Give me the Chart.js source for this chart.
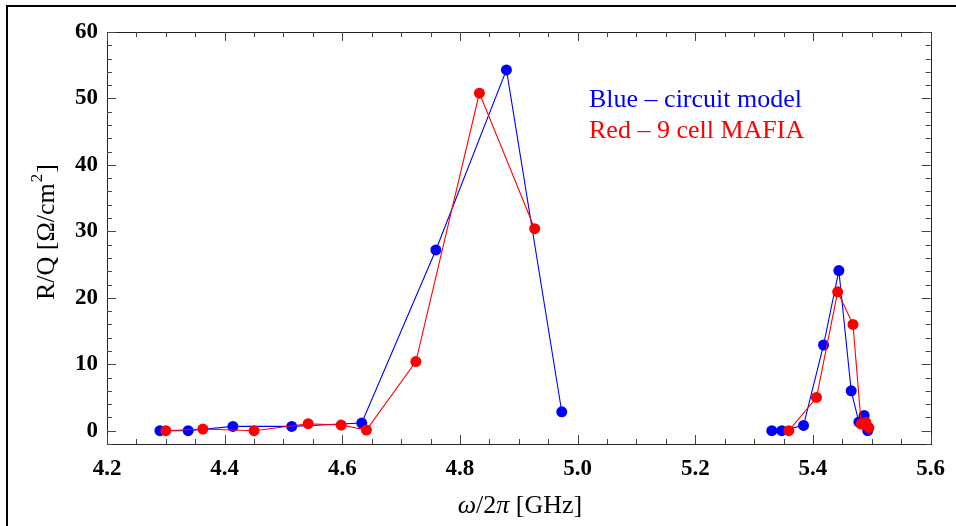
<!DOCTYPE html>
<html>
<head>
<meta charset="utf-8">
<script src="https://cdn.jsdelivr.net/npm/chart.js@4.4.0/dist/chart.umd.min.js"></script>
<style>
  html, body { margin: 0; padding: 0; background: #fff; }
  #wrap { width: 956px; height: 526px; position: relative; }
</style>
</head>
<body>
<div id="wrap"><canvas id="chartRQ"></canvas></div>
<script>
// circuit model (blue)
const blueX = [4.290, 4.338, 4.414, 4.514, 4.633, 4.759, 4.879, 4.973,
               5.330, 5.347, 5.384, 5.418, 5.444, 5.465, 5.478, 5.487, 5.493];
const blueY = [0.0, 0.0, 0.65, 0.65, 1.15, 27.2, 54.3, 2.85,
               0.0, 0.0, 0.8, 12.9, 24.1, 6.0, 1.3, 2.3, 0.0];

// 9 cell MAFIA (red)
const redX = [4.300, 4.363, 4.450, 4.542, 4.598, 4.641, 4.725, 4.833, 4.927,
              5.359, 5.406, 5.442, 5.468, 5.482, 5.490, 5.495];
const redY = [0.0, 0.25, 0.0, 1.05, 0.85, 0.1, 10.4, 50.8, 30.4,
              0.0, 5.0, 20.9, 16.0, 1.0, 1.25, 0.45];

// the two passbands are drawn as separate lines
const bandSplit = 5.1;

const xTicks = [4.2, 4.4, 4.6, 4.8, 5.0, 5.2, 5.4, 5.6];
const yTicks = [0, 10, 20, 30, 40, 50, 60];

const legendLines = [
    { text: "Blue \u2013 circuit model", color: "#0000ff" },
    { text: "Red \u2013 9 cell MAFIA", color: "#ff0000" }
];

const serif = "'Liberation Serif', 'Times New Roman', serif";

function band(xs, ys, upper) {
    return xs.map((x, i) => ({ x: x, y: ys[i] }))
             .filter(p => upper ? p.x > bandSplit : p.x < bandSplit);
}

function series(label, points, color) {
    return {
        label: label,
        data: points,
        showLine: true,
        borderColor: color,
        backgroundColor: color,
        borderWidth: 1.1,
        pointRadius: 5.5,
        pointBorderWidth: 0,
        pointHoverRadius: 5.5
    };
}

// frame, inward ticks, titles and the text legend
const framePlugin = {
    id: "framePlugin",
    afterDraw(chart) {
        const ctx = chart.ctx;
        const a = chart.chartArea;
        const xs = chart.scales.x, ys = chart.scales.y;
        ctx.save();

        // outer picture frame (only top and left visible)
        ctx.strokeStyle = "#000";
        ctx.lineWidth = 2;
        ctx.beginPath();
        ctx.moveTo(7, 526);
        ctx.lineTo(7, 6);
        ctx.lineTo(956, 6);
        ctx.stroke();

        // plot frame
        ctx.lineWidth = 1;
        ctx.strokeStyle = "#222";
        ctx.strokeRect(Math.round(a.left) + 0.5, Math.round(a.top) + 0.5,
                       Math.round(a.right - a.left), Math.round(a.bottom - a.top));

        // x ticks (minor every 0.05)
        ctx.strokeStyle = "#444";
        for (let i = 0; i <= 28; i++) {
            const v = 4.2 + i * 0.05;
            const px = Math.round(xs.getPixelForValue(v)) + 0.5;
            const len = (i % 4 === 0) ? 9 : 5;
            ctx.beginPath();
            ctx.moveTo(px, a.bottom); ctx.lineTo(px, a.bottom - len);
            ctx.moveTo(px, a.top); ctx.lineTo(px, a.top + len);
            ctx.stroke();
        }
        // y ticks (minor every 2)
        for (let v = -2; v <= 60; v += 2) {
            const py = Math.round(ys.getPixelForValue(v)) + 0.5;
            const len = (v % 10 === 0) ? 9 : 5;
            ctx.beginPath();
            ctx.moveTo(a.left, py); ctx.lineTo(a.left + len, py);
            ctx.moveTo(a.right, py); ctx.lineTo(a.right - len, py);
            ctx.stroke();
        }

        // y axis title with a real superscript
        ctx.fillStyle = "#000";
        ctx.save();
        ctx.translate(47, 0);
        ctx.rotate(-Math.PI / 2);
        ctx.textBaseline = "middle";
        ctx.textAlign = "left";
        const yMain = "R/Q [\u03A9/cm", ySup = "2", yEnd = "]";
        ctx.font = "26px " + serif;
        const w1 = ctx.measureText(yMain).width;
        const w3 = ctx.measureText(yEnd).width;
        ctx.font = "17px " + serif;
        const w2 = ctx.measureText(ySup).width;
        let ty = -233 - (w1 + w2 + w3) / 2;
        ctx.font = "26px " + serif;
        ctx.fillText(yMain, ty, 0);
        ctx.font = "17px " + serif;
        ctx.fillText(ySup, ty + w1 + 1, -9);
        ctx.font = "26px " + serif;
        ctx.fillText(yEnd, ty + w1 + w2 + 2, 0);
        ctx.restore();

        // x axis title with italic omega and pi
        const parts = [
            { t: "\u03C9", it: true }, { t: "/2", it: false },
            { t: "\u03C0", it: true }, { t: " [GHz]", it: false }
        ];
        let total = 0;
        parts.forEach(p => {
            ctx.font = (p.it ? "italic " : "") + "26px " + serif;
            p.w = ctx.measureText(p.t).width;
            total += p.w;
        });
        let cx = 520 - total / 2;
        ctx.textBaseline = "middle";
        ctx.textAlign = "left";
        parts.forEach(p => {
            ctx.font = (p.it ? "italic " : "") + "26px " + serif;
            ctx.fillText(p.t, cx, 506);
            cx += p.w;
        });

        // text legend
        ctx.font = "26px " + serif;
        legendLines.forEach((l, i) => {
            ctx.fillStyle = l.color;
            ctx.fillText(l.text, 589, 100 + i * 31);
        });

        ctx.restore();
    }
};

new Chart(document.getElementById("chartRQ"), {
    type: "scatter",
    data: {
        datasets: [
            series("Red - 9 cell MAFIA", band(redX, redY, false), "#ff0000"),
            series("Red - 9 cell MAFIA", band(redX, redY, true), "#ff0000"),
            series("Blue - circuit model", band(blueX, blueY, false), "#0000ff"),
            series("Blue - circuit model", band(blueX, blueY, true), "#0000ff")
        ]
    },
    options: {
        responsive: true,
        maintainAspectRatio: false,
        animation: false,
        layout: { padding: { top: 32, right: 24, left: 0, bottom: 0 } },
        plugins: {
            legend: { display: false },
            tooltip: { enabled: false }
        },
        scales: {
            x: {
                type: "linear",
                min: 4.2,
                max: 5.6,
                afterBuildTicks: s => { s.ticks = xTicks.map(v => ({ value: v })); },
                afterFit: s => { s.height = 82; },
                grid: { display: false, drawTicks: false },
                border: { display: false },
                ticks: {
                    padding: 11,
                    color: "#000",
                    maxRotation: 0,
                    autoSkip: false,
                    font: { family: serif, size: 23, weight: "bold" },
                    callback: v => Number(v).toFixed(1)
                }
            },
            y: {
                type: "linear",
                min: -2,
                max: 60,
                afterBuildTicks: s => { s.ticks = yTicks.map(v => ({ value: v })); },
                afterFit: s => { s.width = 107; },
                grid: { display: false, drawTicks: false },
                border: { display: false },
                ticks: {
                    padding: 9,
                    color: "#000",
                    autoSkip: false,
                    font: { family: serif, size: 23, weight: "bold" },
                    callback: v => String(v)
                }
            }
        }
    },
    plugins: [framePlugin]
});
</script>
</body>
</html>
